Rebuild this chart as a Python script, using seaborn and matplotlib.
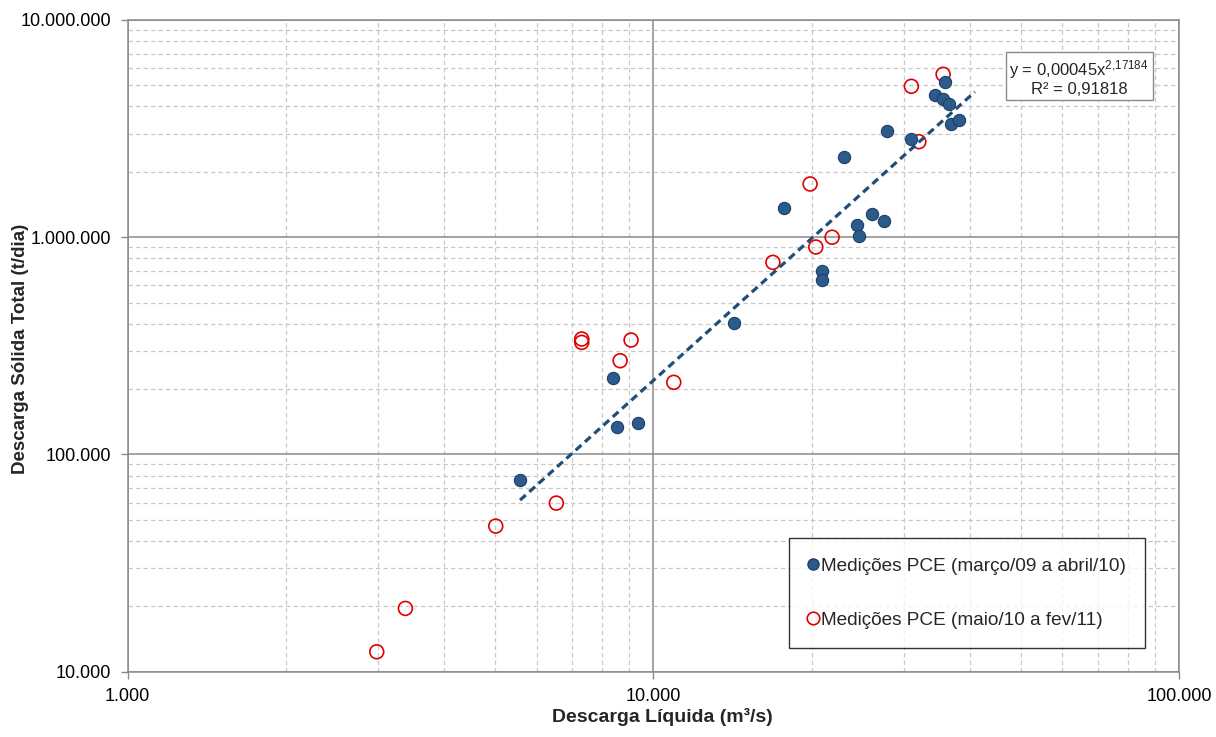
import numpy as np
import pandas as pd
import matplotlib
matplotlib.use("Agg")
import matplotlib.pyplot as plt
from matplotlib.ticker import LogLocator, FuncFormatter, NullFormatter
from matplotlib.lines import Line2D
import seaborn as sns

# ---- data ----
q_blue = [5577, 8380, 8530, 9350, 14240, 17730, 20940, 20940, 23060, 24410,
          24630, 26070, 27480, 27840, 30930, 34360, 35580, 35890, 36580, 36800, 38150]
qs_blue = [76200, 224800, 133700, 139500, 402700, 1362000, 698600, 635300, 2340000, 1138000,
           1013000, 1279000, 1187000, 3083000, 2832000, 4516000, 4328000, 5164000, 4093000, 3311000, 3464000]

q_red = [2977, 3375, 5014, 6538, 7307, 7307, 8645, 9070, 10935, 16880,
         20370, 21880, 19870, 30960, 31990, 35580]
qs_red = [12350, 19560, 46800, 59730, 340000, 328000, 270100, 336300, 214800, 766200,
          901300, 1000000, 1758000, 4951000, 2753000, 5623000]

trend_a = 0.00045
trend_b = 2.17184
trend_r2 = 0.91818
trend_range = [5577, 40900]

label_blue = "Medições PCE (março/09 a abril/10)"
label_red = "Medições PCE (maio/10 a fev/11)"
xlabel = "Descarga Líquida (m³/s)"
ylabel = "Descarga Sólida Total (t/dia)"

sns.set_style("white")
plt.rcParams['font.family'] = ['Liberation Sans', 'DejaVu Sans']
plt.rcParams['mathtext.fontset'] = 'custom'
plt.rcParams['mathtext.rm'] = 'Liberation Sans'
plt.rcParams['mathtext.default'] = 'regular'

fig = plt.figure(figsize=(12.16, 7.37), dpi=100)
ax = fig.add_axes([0.105, 0.0886, 0.8646, 0.8843])

df_blue = pd.DataFrame({"Q": q_blue, "Qs": qs_blue})
df_red = pd.DataFrame({"Q": q_red, "Qs": qs_red})

tx = np.geomspace(trend_range[0], trend_range[1], 100)
df_trend = pd.DataFrame({"Q": tx, "Qs": trend_a * tx ** trend_b})

ax.set_xscale("log")
ax.set_yscale("log")
ax.set_xlim(1000, 100000)
ax.set_ylim(10000, 10000000)

# grid
ax.grid(which="major", color="#8a8a8a", lw=1.1, ls="-", zorder=0)
ax.grid(which="minor", color="#c8c8c8", lw=0.9, ls=(0, (3.5, 2.5)), zorder=0)
ax.set_axisbelow(True)

sns.scatterplot(data=df_red, x="Q", y="Qs", ax=ax, marker="o", s=100,
                facecolor="none", edgecolor="#E00000", linewidth=1.2, zorder=3)
sns.scatterplot(data=df_blue, x="Q", y="Qs", ax=ax, marker="o", s=78,
                color="#2B5A8C", edgecolor="#1E3F66", linewidth=0.8, zorder=4)
sns.lineplot(data=df_trend, x="Q", y="Qs", ax=ax, color="#1F4E79", lw=2.3,
             ls=(0, (2.4, 1.5)), zorder=5, sort=False, estimator=None)

fmt = FuncFormatter(lambda v, p: f"{v:,.0f}".replace(",", "."))
ax.xaxis.set_major_locator(LogLocator(base=10, numticks=10))
ax.yaxis.set_major_locator(LogLocator(base=10, numticks=10))
ax.xaxis.set_minor_locator(LogLocator(base=10, subs=np.arange(2, 10), numticks=20))
ax.yaxis.set_minor_locator(LogLocator(base=10, subs=np.arange(2, 10), numticks=20))
ax.xaxis.set_major_formatter(fmt)
ax.yaxis.set_major_formatter(fmt)
ax.xaxis.set_minor_formatter(NullFormatter())
ax.yaxis.set_minor_formatter(NullFormatter())
ax.tick_params(which="major", direction="out", length=5, width=1, color="#8a8a8a",
               labelsize=13, pad=7, labelcolor="black", left=True, bottom=True)
ax.tick_params(which="minor", length=0)

for s in ax.spines.values():
    s.set_color("#8a8a8a")
    s.set_linewidth(1.1)

ax.set_xlabel(xlabel, fontsize=14, fontweight="bold", labelpad=3)
ax.set_ylabel(ylabel, fontsize=13.5, fontweight="bold")
ax.xaxis.set_label_coords(0.509, -0.055)
ax.yaxis.set_label_coords(-0.0935, 0.495)

# legend
handles = [Line2D([], [], marker="o", ls="none", markersize=8, markerfacecolor="#2B5A8C",
                  markeredgecolor="#1E3F66"),
           Line2D([], [], marker="o", ls="none", markersize=9, markerfacecolor="none",
                  markeredgecolor="#E00000", markeredgewidth=1.2)]
leg = ax.legend(handles, [label_blue, label_red], loc="lower left",
                bbox_to_anchor=(0.629, 0.0364), borderaxespad=0, fontsize=13.7,
                frameon=True, fancybox=False, labelspacing=1.95, borderpad=1.0,
                handlelength=0.5, handletextpad=0.2)
leg.get_frame().set_edgecolor("black")
leg.get_frame().set_linewidth(1.0)
leg.set_zorder(6)

# equation box
eq = f"y = {str(trend_a).replace('.', ',')}x$^{{{str(trend_b).replace('.', '{,}')}}}$\nR² = {str(trend_r2).replace('.', ',')}"
ax.text(0.905, 0.912, eq, transform=ax.transAxes, ha="center", va="center",
        multialignment="center", fontsize=12, zorder=7, linespacing=1.05,
        bbox=dict(boxstyle="square,pad=0.22", facecolor="white", edgecolor="#8a8a8a", lw=1))

fig.savefig("out.png", dpi=100)
